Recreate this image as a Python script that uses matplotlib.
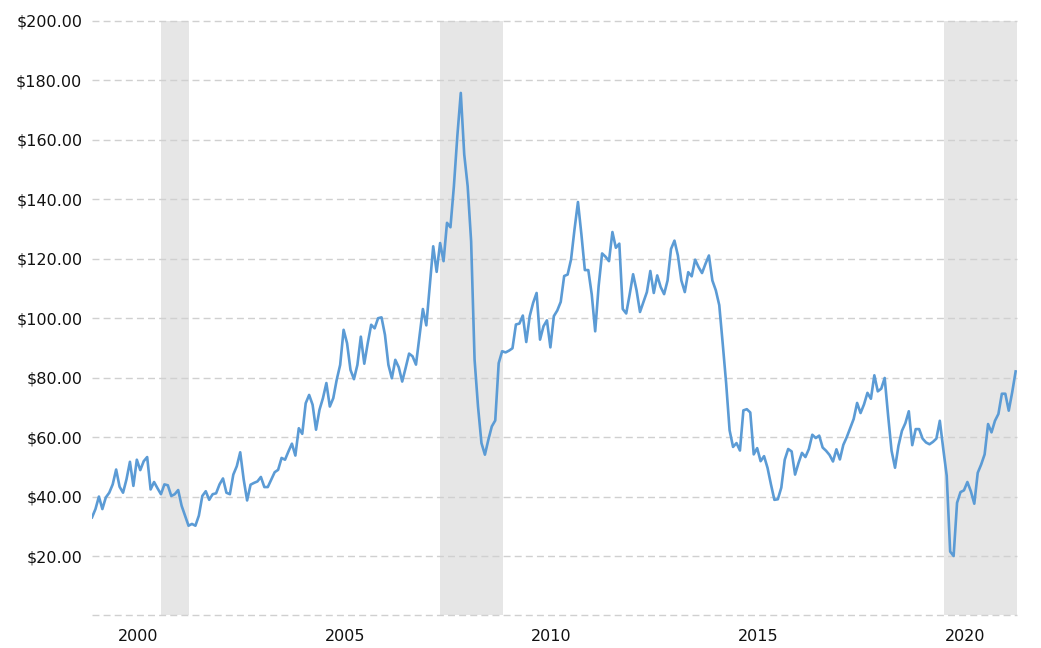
import numpy as np
import matplotlib
matplotlib.use("Agg")
import matplotlib.pyplot as plt

# monthly price, first point sits a little before the "2000" tick
start_year = 1998.89
prices = [
    33.0, 35.8, 40.0, 35.8, 39.7, 41.3, 44.1, 49.1, 43.3, 41.3,
    45.8, 51.7, 43.6, 52.4, 48.9, 51.9, 53.3, 42.4, 44.9, 42.8,
    40.8, 44.1, 43.8, 40.2, 40.8, 42.2, 36.9, 33.6, 30.2, 30.8,
    30.2, 33.6, 40.2, 41.8, 38.9, 40.8, 41.1, 44.1, 46.1, 41.3,
    40.8, 47.4, 50.2, 54.9, 45.8,
    38.7, 44.0, 44.6, 45.1, 46.6, 43.2, 43.2, 45.7, 48.2, 49.0, 53.0,
    52.4, 55.2, 57.8, 53.8, 63.0, 61.1, 71.4, 74.2, 70.9, 62.5,
    69.2, 73.1, 78.2, 70.3, 73.1, 79.3, 84.3, 96.1, 91.6, 82.6,
    79.5, 84.3, 93.8, 84.7, 91.6, 97.8, 96.6, 100.0, 100.3, 94.4,
    84.3, 79.8, 86.0, 83.5, 78.7,
    83.3, 88.1, 87.2, 84.4, 93.9, 103.1, 97.6, 110.8, 124.2, 115.6,
    125.3, 119.2, 132.1, 130.6, 144.4, 161.3, 175.8, 155.1, 144.4, 125.9,
    86.1, 70.3, 58.0, 54.1, 59.1, 63.6, 65.6, 84.9, 88.9, 88.5,
    89.1, 89.9,
    97.9, 98.2, 100.9, 92.0, 100.7, 105.2, 108.5, 92.8, 97.3, 99.3,
    90.2, 100.7, 102.6, 105.5, 114.2, 114.7, 119.8, 129.9, 139.1, 128.2,
    116.2, 116.2, 108.0, 95.6, 110.8, 121.8, 120.7, 119.2, 129.0, 123.7,
    125.1, 103.1, 101.6, 108.0, 114.8,
    109.4, 102.1, 105.5, 108.8, 115.9, 108.5, 114.4, 110.5, 108.1, 112.7,
    123.3, 126.1, 121.1, 112.7, 108.8, 115.5, 114.1, 119.7, 117.2, 115.2,
    118.3, 121.1, 112.7, 109.4, 104.4, 91.5, 78.1, 62.3, 56.7, 58.0,
    55.5, 69.0, 69.4, 68.3, 54.2,
    56.3, 51.9, 53.6, 49.7, 44.1, 38.9, 39.1, 43.0, 52.4,
    56.0, 55.2, 47.4, 51.3, 54.7, 53.3, 56.0, 60.8, 59.7,
    60.5, 56.5, 55.4, 54.0, 51.8, 55.9, 52.5, 57.4, 60.0, 63.1,
    66.1, 71.5, 68.1, 71.0, 74.9, 72.9, 80.8,
    75.4, 76.3, 79.9, 67.2, 55.4, 49.7, 57.1, 62.1, 64.7, 68.7,
    57.3, 62.7, 62.7, 59.5, 58.2, 57.6, 58.4, 59.5, 65.5, 56.0, 47.0,
    21.5, 20.0, 37.9, 41.5, 42.1, 44.9, 41.8, 37.6, 48.0, 50.8,
    54.2, 64.4, 61.6, 65.5, 67.8, 74.6, 74.6, 68.9, 75.1, 82.1,
]
recessions = [(2000.56, 2001.23), (2007.30, 2008.82), (2019.49, 2021.25)]
year_ticks = [2000, 2005, 2010, 2015, 2020]
price_ticks = [0, 20, 40, 60, 80, 100, 120, 140, 160, 180, 200]

dates = start_year + np.arange(len(prices)) / 12.0

fig = plt.figure(figsize=(10.41, 6.48), dpi=100)
ax = fig.add_axes([0.0884, 0.0502, 0.8883, 0.9174])

for a, b in recessions:
    ax.axvspan(a, b, color="#e6e6e6", lw=0, zorder=0)

ax.plot(dates, prices, color="#5b9bd5", lw=1.9, zorder=3, solid_joinstyle="round")

ax.set_xlim(start_year, 2021.25)
ax.set_ylim(0, 200)
ax.set_xticks(year_ticks)
ax.set_xticklabels([str(y) for y in year_ticks])
ax.set_yticks(price_ticks)
ax.set_yticklabels(["" if p == 0 else "${:.2f}".format(p) for p in price_ticks])

ax.grid(axis="y", color="#d0d0d0", lw=1, linestyle=(0, (5, 3)), zorder=1)
for gl in ax.get_ygridlines():
    gl.set_clip_on(False)
ax.set_axisbelow(False)
for s in ax.spines.values():
    s.set_visible(False)
ax.tick_params(axis="both", length=0, labelsize=11.5, colors="#111111")
ax.tick_params(axis="y", pad=7)
ax.tick_params(axis="x", pad=10)

fig.savefig("out.png", dpi=100)
